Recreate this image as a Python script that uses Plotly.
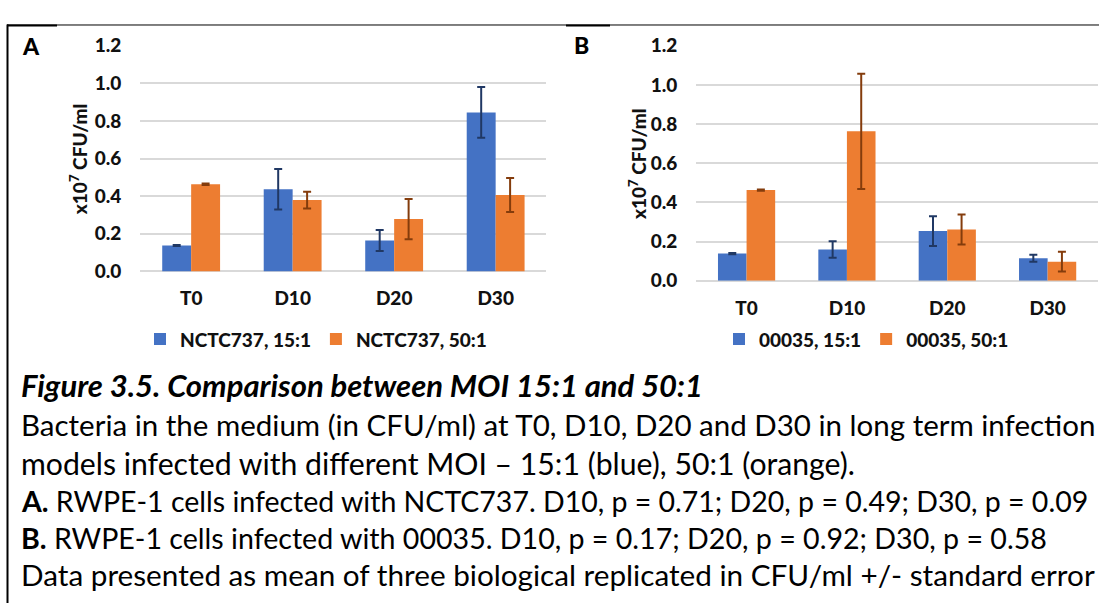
import plotly.graph_objects as go

W, H = 1099, 614

categories = ["T0", "D10", "D20", "D30"]

# Panel A: NCTC737
a_15_mean = [0.138, 0.437, 0.164, 0.845]
a_15_err = [0.003, 0.108, 0.056, 0.135]
a_50_mean = [0.463, 0.379, 0.278, 0.406]
a_50_err = [0.004, 0.045, 0.107, 0.090]

# Panel B: 00035
b_15_mean = [0.139, 0.160, 0.254, 0.115]
b_15_err = [0.003, 0.042, 0.076, 0.018]
b_50_mean = [0.463, 0.763, 0.262, 0.098]
b_50_err = [0.003, 0.294, 0.076, 0.050]

y_tickvals = [0.0, 0.2, 0.4, 0.6, 0.8, 1.0, 1.2]
y_ticktext = ["0.0", "0.2", "0.4", "0.6", "0.8", "1.0", "1.2"]

legend_a = ["NCTC737, 15:1", "NCTC737, 50:1"]
legend_b = ["00035, 15:1", "00035, 50:1"]

caption_title = "Figure 3.5. Comparison between MOI 15:1 and 50:1"
caption_lines = [
    "Bacteria in the medium (in CFU/ml) at T0, D10, D20 and D30 in long term infection",
    "models infected with different MOI \u2013 15:1 (blue), 50:1 (orange).",
    "<b>A.</b> RWPE-1 cells infected with NCTC737. D10, p = 0.71; D20, p = 0.49; D30, p = 0.09",
    "<b>B.</b> RWPE-1 cells infected with 00035. D10, p = 0.17; D20, p = 0.92; D30, p = 0.58",
    "Data presented as mean of three biological replicated in CFU/ml +/- standard error",
]

BLUE = "#4472C4"
ORANGE = "#ED7D31"
BLUE_ERR = "#203864"
ORANGE_ERR = "#843C0C"
GRID = "#D9D9D9"
FONT = "Lato"
TXT = "#111111"


def px(x):
    return x / W


def py(y):
    return 1 - y / H


fig = go.Figure()

def add_bar(x, y, err, name, color, ecolor, xa, ya, legend):
    fig.add_trace(go.Bar(
        x=x, y=y, name=name, marker=dict(color=color, line=dict(width=0)),
        error_y=dict(type="data", array=err, visible=True, color=ecolor,
                     thickness=2, width=4),
        xaxis=xa, yaxis=ya, legend=legend,
    ))

add_bar(categories, a_15_mean, a_15_err, legend_a[0], BLUE, BLUE_ERR, "x", "y", "legend")
add_bar(categories, a_50_mean, a_50_err, legend_a[1], ORANGE, ORANGE_ERR, "x", "y", "legend")
add_bar(categories, b_15_mean, b_15_err, legend_b[0], BLUE, BLUE_ERR, "x2", "y2", "legend2")
add_bar(categories, b_50_mean, b_50_err, legend_b[1], ORANGE, ORANGE_ERR, "x2", "y2", "legend2")

tickfont = dict(family=FONT, size=19, color=TXT, weight=900)

xcommon = dict(type="category", range=[-0.5, 3.5], showgrid=False, showline=False,
               zeroline=False, ticks="", tickfont=tickfont, ticklabelstandoff=14,
               fixedrange=True)
ycommon = dict(range=[0, 1.2], tickvals=y_tickvals, ticktext=y_ticktext,
               showgrid=True, gridcolor=GRID, gridwidth=2, zeroline=True,
               zerolinecolor=GRID, zerolinewidth=2, showline=False, ticks="",
               tickfont=tickfont, ticklabelstandoff=18, fixedrange=True)

legcommon = dict(orientation="h", font=dict(family=FONT, size=19, color=TXT, weight=900),
                 xanchor="left", yanchor="middle", bgcolor="rgba(0,0,0,0)",
                 itemclick=False, itemdoubleclick=False)

fig.update_layout(
    width=W, height=H, autosize=False,
    margin=dict(l=0, r=0, t=0, b=0),
    paper_bgcolor="white", plot_bgcolor="white",
    barmode="group", bargap=0.43, bargroupgap=0,
    xaxis=dict(domain=[px(140.4), px(546.4)], anchor="y", **xcommon),
    yaxis=dict(domain=[py(269.5), py(35)], anchor="x", **ycommon),
    xaxis2=dict(domain=[px(696.4), px(1097.8)], anchor="y2", **xcommon),
    yaxis2=dict(domain=[py(279.3), py(35)], anchor="x2", **ycommon),
    legend=dict(x=px(140), y=py(340), **legcommon),
    legend2=dict(x=px(719), y=py(340), **legcommon),
    showlegend=True,
)

annotations = []
# panel letters
annotations.append(dict(text="A", x=px(30.5), y=py(35), xref="paper", yref="paper",
                        showarrow=False, xanchor="center", yanchor="middle",
                        font=dict(family=FONT, size=23, color="black", weight=900)))
annotations.append(dict(text="B", x=px(582), y=py(34), xref="paper", yref="paper",
                        showarrow=False, xanchor="center", yanchor="middle",
                        font=dict(family=FONT, size=23, color="black", weight=900)))
# y-axis titles
ytitle = "x10<sup>7</sup> CFU/ml"
for xx, yy in [(78, 153), (637, 158)]:
    annotations.append(dict(text=ytitle, x=px(xx), y=py(yy), xref="paper", yref="paper",
                            showarrow=False, xanchor="center", yanchor="middle", textangle=-90,
                            font=dict(family=FONT, size=19, color=TXT, weight=900)))
# caption
annotations.append(dict(text=caption_title, x=px(19), y=py(388), xref="paper", yref="paper",
                        showarrow=False, xanchor="left", yanchor="middle",
                        font=dict(family=FONT, size=31, color="black", weight="bold", style="italic")))
line_centers = [429, 469, 508, 546, 584]
line_sizes = [29.5, 30.2, 28.5, 28.6, 29.7]
for txt, yc, fs in zip(caption_lines, line_centers, line_sizes):
    annotations.append(dict(text=txt, x=px(19), y=py(yc), xref="paper", yref="paper",
                            showarrow=False, xanchor="left", yanchor="middle",
                            font=dict(family=FONT, size=fs, color="black")))
fig.update_layout(annotations=annotations)

# frame lines
shapes = [
    dict(type="line", xref="paper", yref="paper", x0=px(7), x1=1, y0=py(13.5), y1=py(13.5),
         line=dict(color="black", width=1)),
    dict(type="line", xref="paper", yref="paper", x0=px(7), x1=px(57), y0=py(14), y1=py(14),
         line=dict(color="black", width=2)),
    dict(type="line", xref="paper", yref="paper", x0=px(566), x1=px(610), y0=py(14), y1=py(14),
         line=dict(color="black", width=2)),
    dict(type="line", xref="paper", yref="paper", x0=px(7.5), x1=px(7.5), y0=py(13), y1=0,
         line=dict(color="black", width=2)),
]
fig.update_layout(shapes=shapes)

fig.write_html("out.html")
